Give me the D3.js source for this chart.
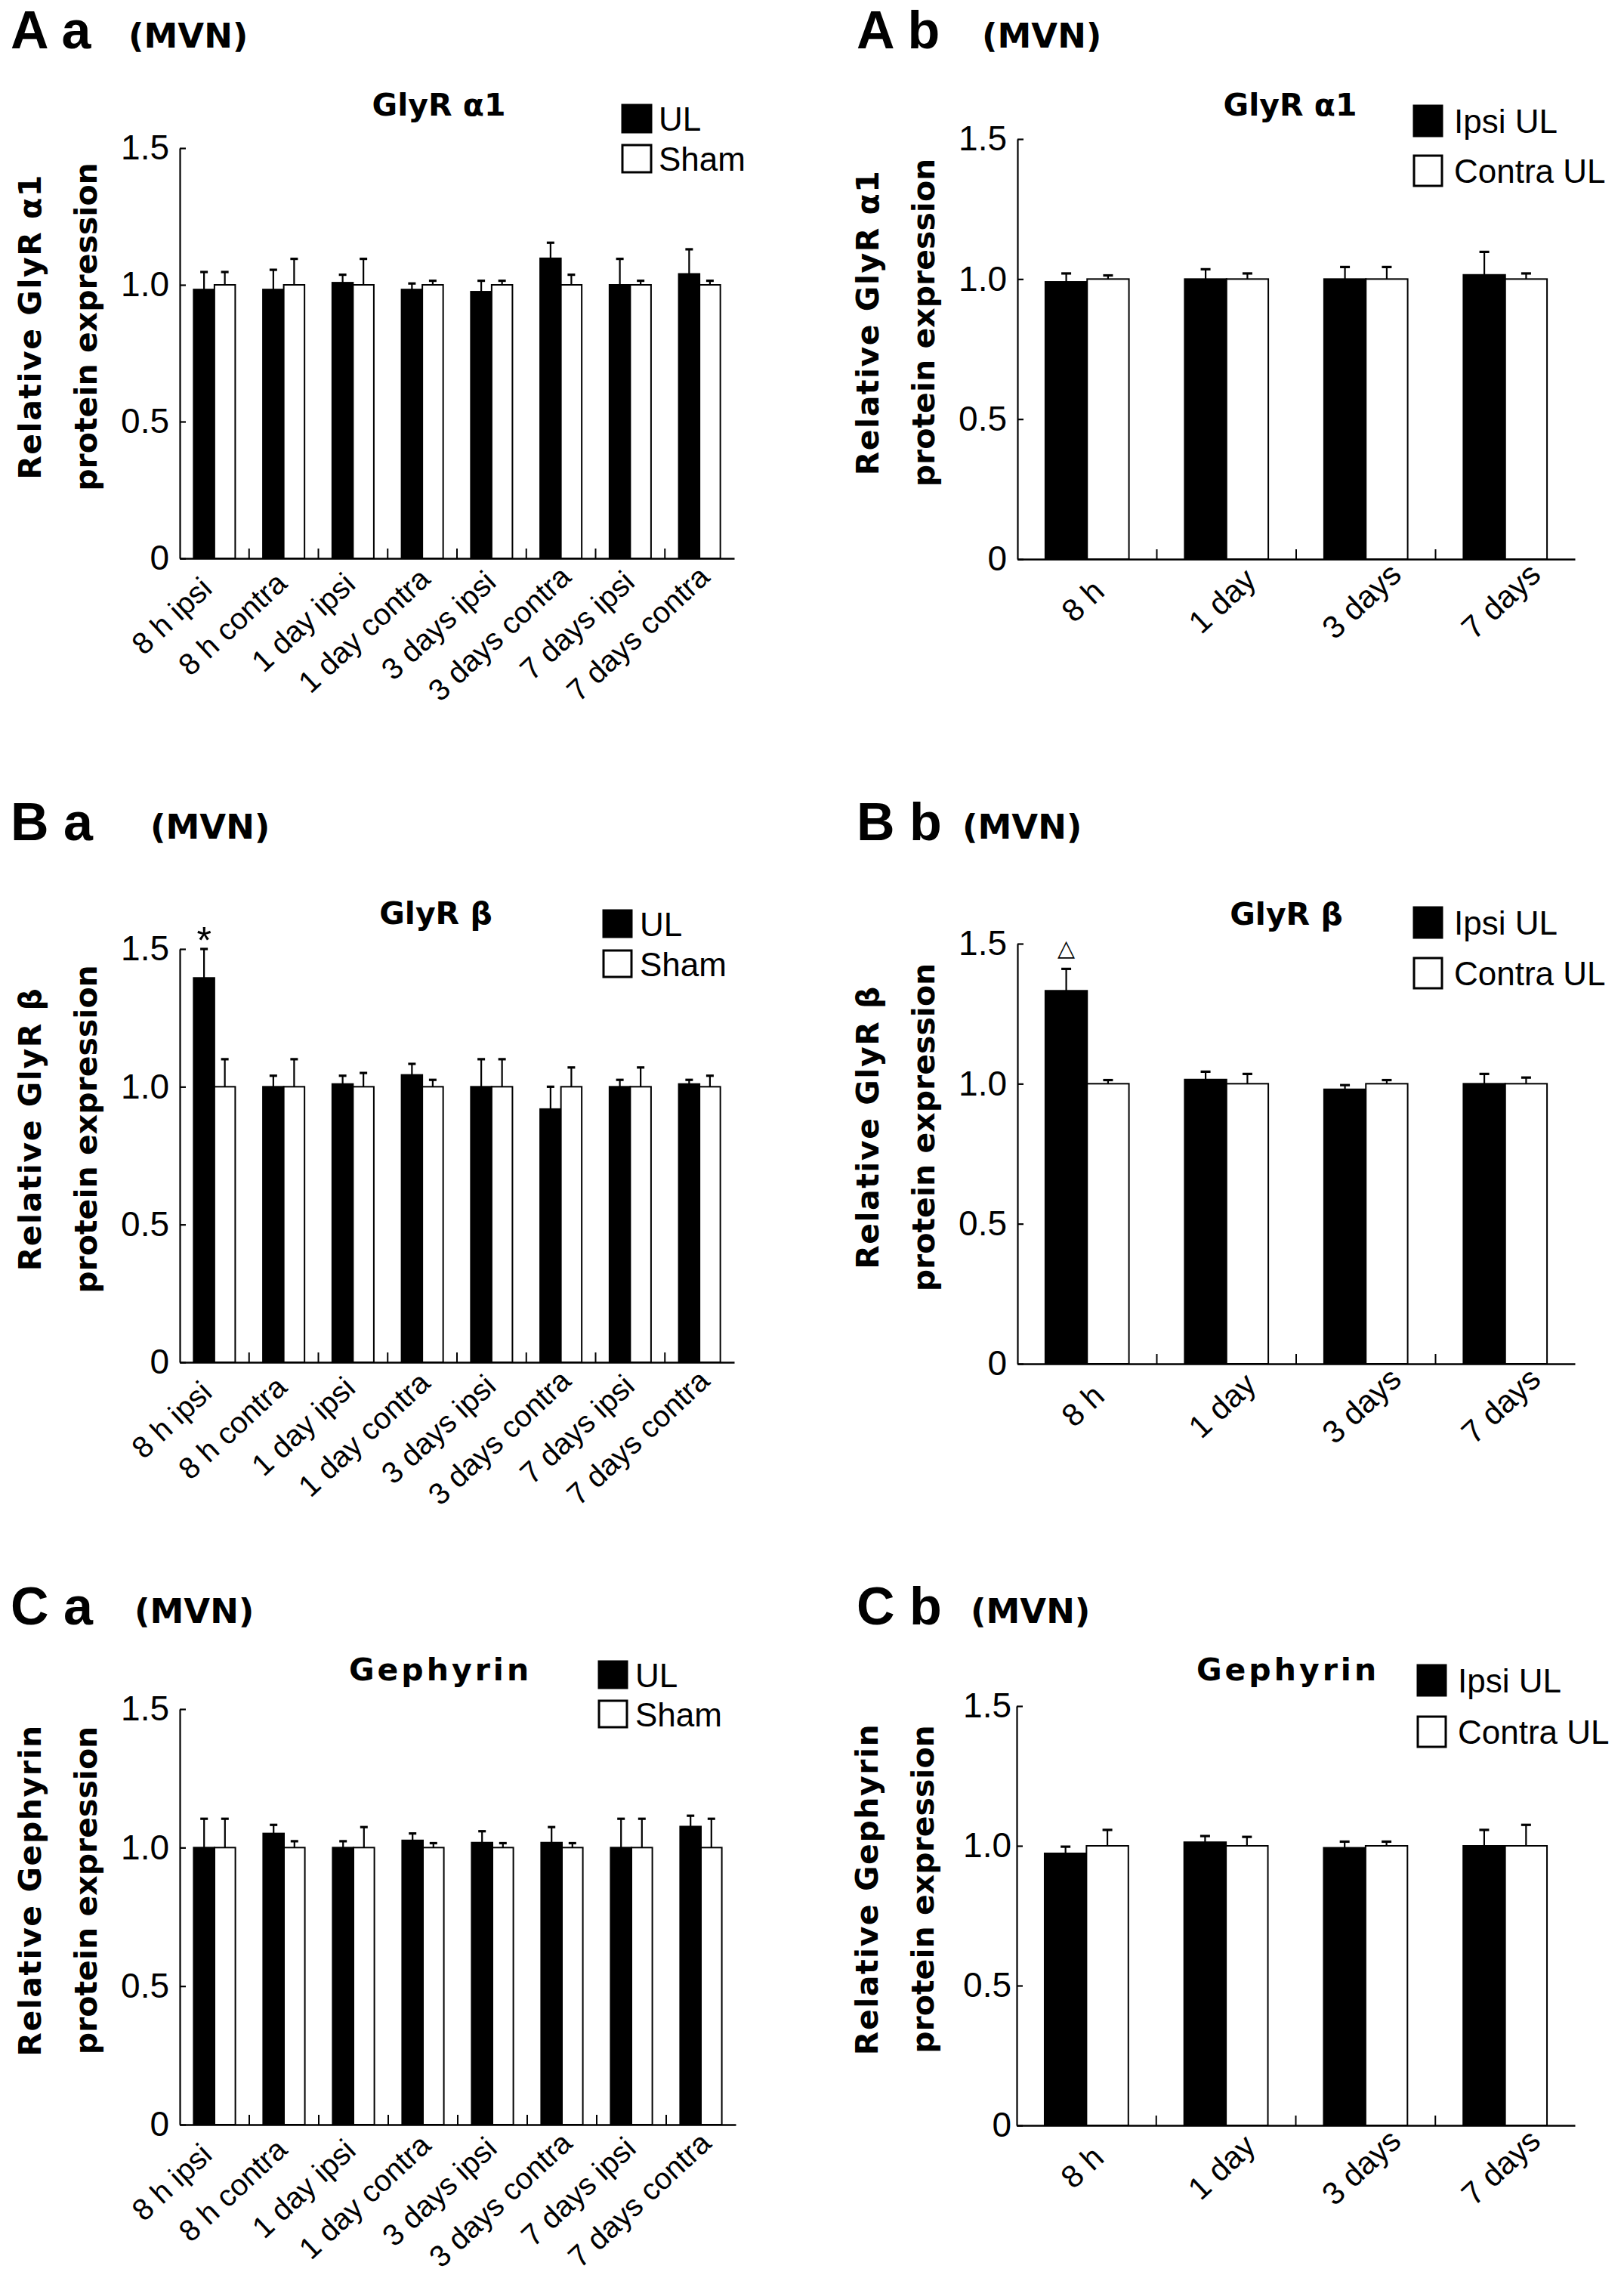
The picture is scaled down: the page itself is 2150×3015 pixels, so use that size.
<!DOCTYPE html>
<html>
<head>
<meta charset="utf-8">
<script src="https://cdn.jsdelivr.net/npm/d3@7"></script>
<style>
  html, body { margin: 0; padding: 0; background: #fff; }
  svg { display: block; }
</style>
</head>
<body>
<script>
// ---------------- DATA ----------------
const groupCats = ["8 h ipsi", "8 h contra", "1 day ipsi", "1 day contra", "3 days ipsi", "3 days contra", "7 days ipsi", "7 days contra"];
const timeCats = ["8 h", "1 day", "3 days", "7 days"];
const yTicks = [0, 0.5, 1.0, 1.5];

// A a : GlyR α1, UL vs Sham
const aaUL = [0.983, 0.983, 1.008, 0.983, 0.975, 1.097, 1.000, 1.040];
const aaULsem = [0.064, 0.072, 0.029, 0.022, 0.040, 0.057, 0.095, 0.090];
const aaSham = [1, 1, 1, 1, 1, 1, 1, 1];
const aaShamSem = [0.047, 0.095, 0.095, 0.015, 0.015, 0.037, 0.015, 0.015];

// A b : GlyR α1, Ipsi UL vs Contra UL
const abIpsi = [0.990, 1.000, 1.000, 1.015];
const abIpsiSem = [0.030, 0.035, 0.043, 0.082];
const abContra = [1, 1, 1, 1];
const abContraSem = [0.013, 0.020, 0.043, 0.020];

// B a : GlyR β, UL vs Sham
const baUL = [1.395, 1.000, 1.010, 1.043, 1.000, 0.919, 1.000, 1.010];
const baULsem = [0.105, 0.040, 0.030, 0.040, 0.100, 0.081, 0.025, 0.015];
const baSham = [1, 1, 1, 1, 1, 1, 1, 1];
const baShamSem = [0.100, 0.100, 0.050, 0.025, 0.100, 0.070, 0.070, 0.040];

// B b : GlyR β, Ipsi UL vs Contra UL
const bbIpsi = [1.332, 1.015, 0.980, 1.000];
const bbIpsiSem = [0.078, 0.028, 0.015, 0.035];
const bbContra = [1, 1, 1, 1];
const bbContraSem = [0.013, 0.035, 0.013, 0.022];

// C a : Gephyrin, UL vs Sham
const caUL = [1.000, 1.051, 1.000, 1.026, 1.018, 1.018, 1.000, 1.076];
const caULsem = [0.104, 0.031, 0.023, 0.025, 0.041, 0.056, 0.104, 0.039];
const caSham = [1, 1, 1, 1, 1, 1, 1, 1];
const caShamSem = [0.104, 0.023, 0.074, 0.016, 0.016, 0.016, 0.104, 0.104];

// C b : Gephyrin, Ipsi UL vs Contra UL
const cbIpsi = [0.973, 1.013, 0.993, 1.000];
const cbIpsiSem = [0.024, 0.022, 0.022, 0.057];
const cbContra = [1, 1, 1, 1];
const cbContraSem = [0.057, 0.032, 0.015, 0.075];

const legendA = ["UL", "Sham"];
const legendB = ["Ipsi UL", "Contra UL"];

// ---------------- LAYOUT ----------------
const W = 2150, H = 3015;
const BOLD = "'DejaVu Sans', 'Liberation Sans', Arial, sans-serif";
const NORM = "'Liberation Sans', Arial, Helvetica, sans-serif";
const ANG = 43;

const svg = d3.select("body").append("svg")
  .attr("width", W).attr("height", H)
  .attr("viewBox", `0 0 ${W} ${H}`);
svg.append("rect").attr("width", W).attr("height", H).attr("fill", "#fff");

const labA = { dx: -29, dy: 50, f: 0.8, size: 40 };
const labB = { dx: -6, dy: 55, f: 0.5, size: 42 };

const panels = [
  { letter: "A a", lx: 14, ly: 64, mx: 170, my: 63,
    title: "GlyR α1", tx: 581, ty: 153, tls: 0,
    legend: legendA, legX: 824, legY: [139, 192], legW: 38, legH: 36, legTX: 872,
    x0: 238, x1: 972, yTop: 196, y0: 739,
    cats: groupCats, s1: aaUL, e1: aaULsem, s2: aaSham, e2: aaShamSem,
    yl1: "Relative GlyR α1", yl2: "protein expression",
    lab: labA, cap: 5, tickPad: 14 },
  { letter: "A b", lx: 1134, ly: 64, mx: 1300, my: 63,
    title: "GlyR α1", tx: 1708, ty: 153, tls: 0,
    legend: legendB, legX: 1872, legY: [140, 206], legW: 37, legH: 40, legTX: 1925,
    x0: 1347, x1: 2085, yTop: 184, y0: 740,
    cats: timeCats, s1: abIpsi, e1: abIpsiSem, s2: abContra, e2: abContraSem,
    yl1: "Relative GlyR α1", yl2: "protein expression",
    lab: labB, cap: 6.5, tickPad: 14 },
  { letter: "B a", lx: 14, ly: 1112, mx: 199, my: 1110,
    title: "GlyR β", tx: 577, ty: 1223, tls: 0,
    legend: legendA, legX: 799, legY: [1205, 1258], legW: 37, legH: 35, legTX: 847,
    x0: 238, x1: 972, yTop: 1256, y0: 1803,
    cats: groupCats, s1: baUL, e1: baULsem, s2: baSham, e2: baShamSem,
    yl1: "Relative GlyR β", yl2: "protein expression",
    lab: labA, cap: 5, tickPad: 14,
    mark: { text: "*", idx: 0, font: NORM, size: 50, off: 6 } },
  { letter: "B b", lx: 1134, ly: 1112, mx: 1274, my: 1110,
    title: "GlyR β", tx: 1703, ty: 1224, tls: 0,
    legend: legendB, legX: 1872, legY: [1201, 1268], legW: 37, legH: 40, legTX: 1925,
    x0: 1347, x1: 2085, yTop: 1249, y0: 1805,
    cats: timeCats, s1: bbIpsi, e1: bbIpsiSem, s2: bbContra, e2: bbContraSem,
    yl1: "Relative GlyR β", yl2: "protein expression",
    lab: labB, cap: 6.5, tickPad: 14,
    mark: { text: "△", idx: 0, font: "'DejaVu Sans', sans-serif", size: 30, off: -17 } },
  { letter: "C a", lx: 14, ly: 2150, mx: 178, my: 2148,
    title: "Gephyrin", tx: 583, ty: 2224, tls: 4,
    legend: legendA, legX: 793, legY: [2199, 2251], legW: 37, legH: 35, legTX: 841,
    x0: 238, x1: 974, yTop: 2262, y0: 2812,
    cats: groupCats, s1: caUL, e1: caULsem, s2: caSham, e2: caShamSem,
    yl1: "Relative Gephyrin", yl2: "protein expression",
    lab: labA, cap: 5, tickPad: 14 },
  { letter: "C b", lx: 1134, ly: 2150, mx: 1285, my: 2148,
    title: "Gephyrin", tx: 1705, ty: 2224, tls: 4,
    legend: legendB, legX: 1877, legY: [2204, 2272], legW: 37, legH: 40, legTX: 1930,
    x0: 1346, x1: 2085, yTop: 2258, y0: 2813,
    cats: timeCats, s1: cbIpsi, e1: cbIpsiSem, s2: cbContra, e2: cbContraSem,
    yl1: "Relative Gephyrin", yl2: "protein expression",
    lab: labB, cap: 6.5, tickPad: 7 }
];

function drawPanel(p) {
  const g = svg.append("g");

  // panel letter and region
  g.append("text").attr("x", p.lx).attr("y", p.ly)
    .attr("font-family", NORM).attr("font-weight", "bold").attr("font-size", 70)
    .text(p.letter);
  g.append("text").attr("x", p.mx).attr("y", p.my)
    .attr("font-family", BOLD).attr("font-weight", "bold").attr("font-size", 45)
    .text("(MVN)");

  // title
  g.append("text").attr("x", p.tx).attr("y", p.ty)
    .attr("text-anchor", "middle")
    .attr("font-family", BOLD).attr("font-weight", "bold").attr("font-size", 41)
    .attr("letter-spacing", p.tls)
    .text(p.title);

  // legend
  const fills = ["#000", "#fff"];
  p.legend.forEach((lbl, i) => {
    g.append("rect").attr("x", p.legX).attr("y", p.legY[i])
      .attr("width", p.legW).attr("height", p.legH)
      .attr("fill", fills[i]).attr("stroke", "#000").attr("stroke-width", 3);
    g.append("text").attr("x", p.legTX).attr("y", p.legY[i] + p.legH / 2 + 16)
      .attr("font-family", NORM).attr("font-size", 44)
      .text(lbl);
  });

  // scales
  const x = d3.scaleBand().domain(p.cats).range([p.x0, p.x1])
    .paddingInner(0.4).paddingOuter(0.2);
  const xs = d3.scaleBand().domain([0, 1]).range([0, x.bandwidth()]);
  const y = d3.scaleLinear().domain([0, 1.5]).range([p.y0, p.yTop]);

  const rows = p.cats.map((c, i) => ({ c, v: [p.s1[i], p.s2[i]], e: [p.e1[i], p.e2[i]] }));

  // bars
  const grp = g.append("g").selectAll("g").data(rows).join("g")
    .attr("transform", d => `translate(${x(d.c)},0)`);
  grp.selectAll("rect").data(d => d.v.map((v, k) => ({ v, k })))
    .join("rect")
    .attr("x", d => xs(d.k)).attr("width", xs.bandwidth())
    .attr("y", d => y(d.v)).attr("height", d => y(0) - y(d.v))
    .attr("fill", d => fills[d.k]).attr("stroke", "#000").attr("stroke-width", 2);

  // error bars (upper only)
  const eb = grp.selectAll("g.err").data(d => d.v.map((v, k) => ({ v, e: d.e[k], k })))
    .join("g").attr("class", "err");
  eb.append("line")
    .attr("x1", d => xs(d.k) + xs.bandwidth() / 2).attr("x2", d => xs(d.k) + xs.bandwidth() / 2)
    .attr("y1", d => y(d.v)).attr("y2", d => y(d.v + d.e))
    .attr("stroke", "#000").attr("stroke-width", 2.2);
  eb.append("line")
    .attr("x1", d => xs(d.k) + xs.bandwidth() / 2 - p.cap).attr("x2", d => xs(d.k) + xs.bandwidth() / 2 + p.cap)
    .attr("y1", d => y(d.v + d.e)).attr("y2", d => y(d.v + d.e))
    .attr("stroke", "#000").attr("stroke-width", 3.2);

  // significance mark
  if (p.mark) {
    const m = p.mark;
    const cx = x(p.cats[m.idx]) + xs(0) + xs.bandwidth() / 2;
    g.append("text").attr("x", cx).attr("y", y(p.s1[m.idx] + p.e1[m.idx]) + m.off)
      .attr("text-anchor", "middle").attr("font-family", m.font).attr("font-size", m.size)
      .text(m.text);
  }

  // y axis
  const ya = g.append("g").attr("transform", `translate(${p.x0},0)`)
    .call(d3.axisLeft(y).tickValues(yTicks)
      .tickFormat(d => d === 0 ? "0" : d3.format(".1f")(d))
      .tickSizeInner(-8).tickSizeOuter(0).tickPadding(p.tickPad));
  ya.select(".domain").attr("stroke-width", 2.2);
  ya.selectAll(".tick line").attr("stroke-width", 2.2);
  ya.selectAll(".tick text").attr("font-family", NORM).attr("font-size", 46).attr("fill", "#000");

  // x axis
  const xa = g.append("g").attr("transform", `translate(0,${p.y0})`)
    .call(d3.axisBottom(x).tickSize(0).tickSizeOuter(0));
  xa.select(".domain").attr("stroke-width", 2.4);
  const rad = ANG * Math.PI / 180;
  xa.selectAll(".tick text")
    .attr("font-family", NORM).attr("font-size", p.lab.size).attr("fill", "#000")
    .attr("x", 0).attr("y", 0).attr("dy", "0.35em")
    .attr("text-anchor", "middle")
    .each(function () {
      const L = this.getComputedTextLength();
      const s = (p.lab.f - 0.5) * L;
      const cx = p.lab.dx - s * Math.cos(rad);
      const cy = p.lab.dy + s * Math.sin(rad);
      d3.select(this).attr("transform", `translate(${cx},${cy}) rotate(${-ANG})`);
    });
  // group boundary ticks (inward)
  const bounds = d3.range(1, p.cats.length).map(i => p.x0 + i * x.step());
  xa.selectAll("line.bound").data(bounds).join("line").attr("class", "bound")
    .attr("x1", d => d).attr("x2", d => d).attr("y1", 0).attr("y2", -13)
    .attr("stroke", "#000").attr("stroke-width", 2);

  // y label (two lines)
  const cy = (p.y0 + p.yTop) / 2 - 35;
  [[p.yl1, p.x0 - 184, 1.5], [p.yl2, p.x0 - 110, 0]].forEach(([t, bx, ls]) => {
    g.append("text")
      .attr("transform", `translate(${bx},${cy}) rotate(-90)`)
      .attr("text-anchor", "middle")
      .attr("font-family", BOLD).attr("font-weight", "bold").attr("font-size", 41)
      .attr("letter-spacing", ls)
      .text(t);
  });
}

panels.forEach(drawPanel);
</script>
</body>
</html>
